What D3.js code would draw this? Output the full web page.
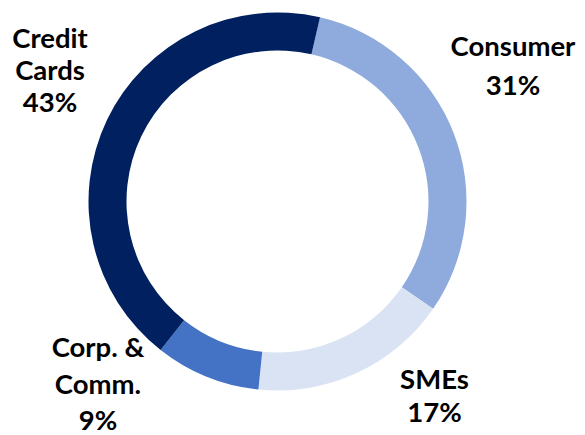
<!DOCTYPE html>
<html>
<head>
<meta charset="utf-8">
<script src="https://cdn.jsdelivr.net/npm/d3@7"></script>
<style>
  body { margin: 0; background: #fff; }
  text { font-family: Lato, "Open Sans", sans-serif; font-weight: 700; fill: #000; }
</style>
</head>
<body>
<svg id="chart" width="585" height="435"></svg>
<script>
// data
const categories = ["Consumer", "SMEs", "Corp. & Comm.", "Credit Cards"];
const shares = [31, 17, 9, 43];
const labelLines = [["Consumer"], ["SMEs"], ["Corp. &", "Comm."], ["Credit", "Cards"]];

const colors = ["#8faadc", "#dae3f3", "#4472c4", "#002060"];

// layout
const size = { width: 585, height: 435 };
const center = { x: 277.5, y: 201.5 };
const outerR = 189, innerR = 151;
const startDeg = 13;
// label anchor (centre x, first baseline y) and line gap
const labelPos = [
  { x: 513, y: 56, gap: 39 },
  { x: 434.5, y: 389, gap: 33 },
  { x: 98, y: 357, gap: 36.5 },
  { x: 50, y: 47.5, gap: 32 }
];

const svg = d3.select("#chart");

const pie = d3.pie()
  .sort(null)
  .value(d => d)
  .startAngle(startDeg * Math.PI / 180)
  .endAngle(startDeg * Math.PI / 180 + 2 * Math.PI);

const arc = d3.arc().innerRadius(innerR).outerRadius(outerR);

const g = svg.append("g").attr("transform", `translate(${center.x},${center.y})`);

g.selectAll("path")
  .data(pie(shares))
  .join("path")
  .attr("d", arc)
  .attr("fill", (d, i) => colors[i]);

//------------------------------------------------------//
// labels
//------------------------------------------------------//
const labels = svg.append("g");
categories.forEach((name, i) => {
  const lines = labelLines[i].concat([shares[i] + "%"]);
  const p = labelPos[i];
  const t = labels.append("text")
    .attr("text-anchor", "middle")
    .attr("font-size", 27.5);
  lines.forEach((ln, k) => {
    t.append("tspan")
      .attr("x", p.x)
      .attr("y", p.y + k * p.gap)
      .text(ln);
  });
});
</script>
</body>
</html>
